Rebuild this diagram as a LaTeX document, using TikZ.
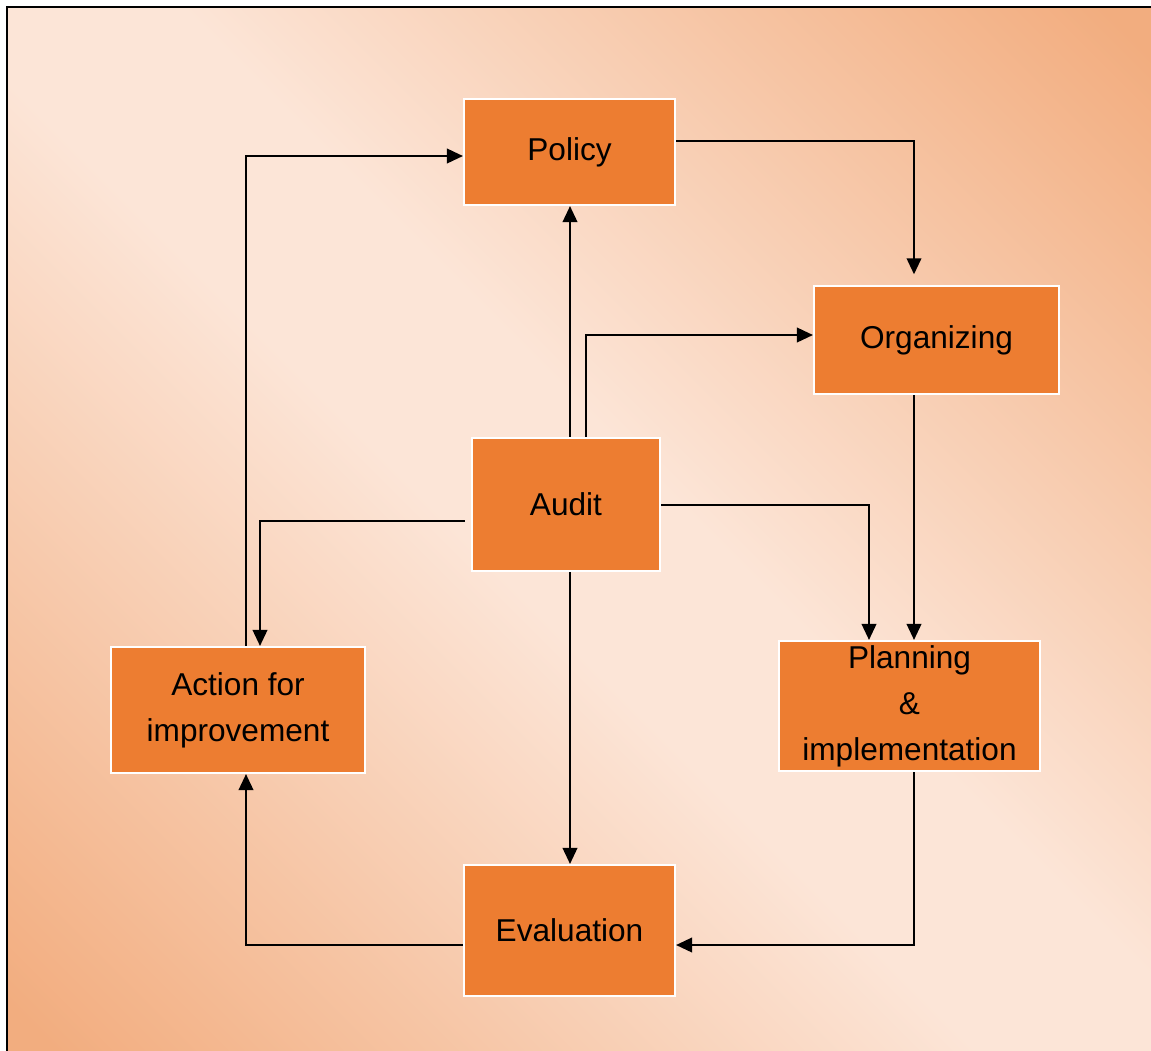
\documentclass[tikz,border=0pt]{standalone}
\usepackage{fontspec}
\setmainfont{Liberation Sans}
\usetikzlibrary{arrows.meta}
\definecolor{bgdark}{RGB}{242,173,127}
\definecolor{bglight}{RGB}{252,229,215}
\definecolor{boxfill}{RGB}{237,125,49}
\pgfdeclarehorizontalshading{bgshade}{100bp}{color(0bp)=(bgdark); color(16bp)=(bgdark); color(46bp)=(bglight); color(54bp)=(bglight); color(84bp)=(bgdark); color(100bp)=(bgdark)}
\tikzset{
  boxnode/.style={draw=white, line width=1.6pt, fill=boxfill, inner sep=0pt,
    align=center, font=\fontsize{23.7}{34.5}\selectfont, text=black},
  arr/.style={line width=1.3pt, -{Triangle[length=12pt,width=11pt]}},
}
\begin{document}
\begin{tikzpicture}[x=0.75pt,y=-0.75pt]
\useasboundingbox (0,0) rectangle (1151,1050);
\clip (0,0) rectangle (1151,1050);
\shade[shading=bgshade, shading angle=45]
  (7,7) rectangle (1151,1050);
\draw[line width=1.8pt] (1160,7) -- (7,7) -- (7,1060);

\node[boxnode, minimum width=211*0.75pt, minimum height=106*0.75pt] (policy) at (569.5,152) {Policy};
\node[boxnode, minimum width=245*0.75pt, minimum height=108*0.75pt] (organizing) at (936.5,340) {Organizing};
\node[boxnode, minimum width=188*0.75pt, minimum height=133*0.75pt] (audit) at (566,504.5) {Audit};
\node[boxnode, minimum width=254*0.75pt, minimum height=126*0.75pt] (action) at (238,710) {Action for\\improvement};
\node[boxnode, minimum width=261*0.75pt, minimum height=130*0.75pt] (planning) at (909.5,706) {Planning\\\&\\implementation};
\node[boxnode, minimum width=211*0.75pt, minimum height=131*0.75pt] (evaluation) at (569.5,930.5) {Evaluation};

\draw[arr] (570,0 |- audit.north) -- (570,0 |- policy.south);
\draw[arr] (586,0 |- audit.north) |- (organizing.west |- 0,335);
\draw[arr, shorten >=8pt] (policy.east |- 0,141) -| (914,0 |- organizing.north);
\draw[arr] (914,0 |- organizing.south) -- (914,0 |- planning.north);
\draw[arr] (audit.east |- 0,505) -| (869,0 |- planning.north);
\draw[arr] ([xshift=-4.5pt]audit.west |- 0,521) -| (260,0 |- action.north);
\draw[arr] (246,0 |- action.north) |- (policy.west |- 0,156);
\draw[arr] (570,0 |- audit.south) -- (570,0 |- evaluation.north);
\draw[arr] (914,0 |- planning.south) |- (evaluation.east |- 0,945);
\draw[arr] (evaluation.west |- 0,945) -| (246,0 |- action.south);
\end{tikzpicture}
\end{document}
